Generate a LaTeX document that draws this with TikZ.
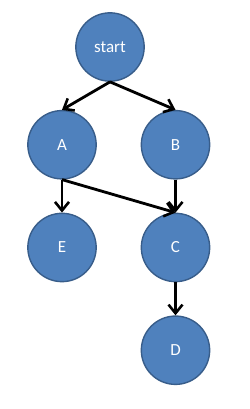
\documentclass[tikz,border=0pt]{standalone}
\usepackage{fontspec}
\setmainfont{Carlito}
\usetikzlibrary{arrows.meta, positioning}
\definecolor{nodeblue}{HTML}{4F81BD}
\definecolor{edgeblue}{HTML}{385D8A}
\tikzset{
    state/.style={circle, draw=edgeblue, line width=1.2pt, fill=nodeblue, minimum size=2.05cm, inner sep=0pt, text=white, font=\fontsize{14.5}{16}\selectfont},
    arrow/.style={-{Straight Barb[length=2.6mm, width=4.2mm, line width=2.2pt]}, line width=2.4pt, draw=black}
}
\begin{document}
\begin{tikzpicture}[node distance=0.84cm and 1cm]
        \useasboundingbox (0,0) rectangle (7.47,-12.27);
        \node[state] (start) at (3.3,-1.41) {start};
        \node[state, below=of start, xshift=-1.44cm] (A) {A};
        \node[state, below=of start, xshift=1.965cm] (B) {B};
        \node[state, below=0.99cm of A] (E) {E};
        \node[state, below=0.99cm of B] (C) {C};
        \node[state, below=0.99cm of C] (D) {D};
        \draw[arrow] (start.south) -- (A.north);
        \draw[arrow] (start.south) -- (B.north);
        \draw[arrow] (A.south) -- (E.north);
        \draw[arrow] (A.south) -- (C.north);
        \draw[arrow] (B.south) -- (C.north);
        \draw[arrow] (C.south) -- (D.north);
\end{tikzpicture}
\end{document}
